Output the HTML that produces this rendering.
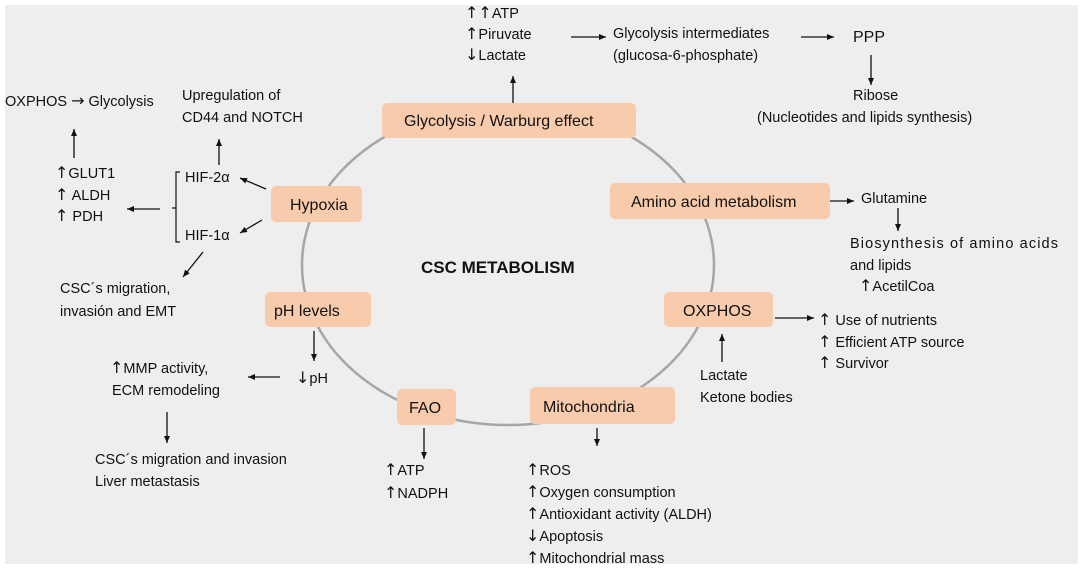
<!DOCTYPE html>
<html><head><meta charset="utf-8"><style>
html,body{margin:0;padding:0;background:#fff;}
svg{display:block;}
text{font-family:"Liberation Sans",sans-serif;font-size:14.5px;fill:#111;}
.b{font-size:16px;}
.r{font-family:"DejaVu Sans",sans-serif;font-size:16px;}
</style></head><body>
<svg width="1084" height="569" viewBox="0 0 1084 569" xmlns="http://www.w3.org/2000/svg">
<defs><marker id="a" markerWidth="8" markerHeight="8" refX="7" refY="4" orient="auto" markerUnits="userSpaceOnUse"><path d="M0,1 L7,4 L0,7 z" fill="#111"/></marker></defs>
<rect x="5" y="5" width="1073" height="559" fill="#eeeeee"/>
<ellipse cx="508" cy="265" rx="206" ry="160" fill="none" stroke="#a6a6a6" stroke-width="2.5"/>
<g fill="#f8cbad">
<rect x="382" y="103" width="254" height="35" rx="5"/>
<rect x="271" y="186" width="91" height="36" rx="5"/>
<rect x="610" y="183" width="220" height="36" rx="5"/>
<rect x="265" y="292" width="106" height="35" rx="5"/>
<rect x="664" y="292" width="109" height="35" rx="5"/>
<rect x="397" y="389" width="59" height="36" rx="5"/>
<rect x="530" y="387" width="145" height="37" rx="5"/>
</g>
<text class="b" x="404" y="126">Glycolysis / Warburg effect</text>
<text class="b" x="290" y="210">Hypoxia</text>
<text class="b" x="631" y="207">Amino acid metabolism</text>
<text class="b" x="274" y="316">pH levels</text>
<text class="b" x="683" y="316">OXPHOS</text>
<text class="b" x="409" y="413">FAO</text>
<text class="b" x="543" y="412">Mitochondria</text>
<text x="421" y="273" style="font-weight:bold;font-size:17px">CSC METABOLISM</text>
<g stroke="#111" stroke-width="1.3" fill="none" marker-end="url(#a)">
<line x1="513" y1="103" x2="513" y2="76"/>
<line x1="571" y1="37" x2="606" y2="37"/>
<line x1="801" y1="37" x2="834" y2="37"/>
<line x1="871" y1="55" x2="871" y2="85"/>
<line x1="74" y1="158" x2="74" y2="129"/>
<line x1="219" y1="165" x2="219" y2="139"/>
<line x1="160" y1="209" x2="127" y2="209"/>
<line x1="266" y1="189" x2="240" y2="178"/>
<line x1="262" y1="220" x2="240" y2="233"/>
<line x1="203" y1="252" x2="183" y2="277"/>
<line x1="830" y1="201" x2="854" y2="201"/>
<line x1="898" y1="208" x2="898" y2="231"/>
<line x1="775" y1="318" x2="814" y2="318"/>
<line x1="722" y1="362" x2="722" y2="334"/>
<line x1="314" y1="331" x2="314" y2="361"/>
<line x1="280" y1="377" x2="248" y2="377"/>
<line x1="167" y1="412" x2="167" y2="443"/>
<line x1="424" y1="428" x2="424" y2="459"/>
<line x1="597" y1="428" x2="597" y2="446"/>
</g>
<path d="M180,172 L176,172 L176,242 L180,242 M176,208 L172,208" stroke="#111" stroke-width="1.2" fill="none"/>
<text x="465" y="18"><tspan class="r">↑↑</tspan>ATP</text>
<text x="465" y="39"><tspan class="r">↑</tspan>Piruvate</text>
<text x="465" y="60"><tspan class="r">↓</tspan>Lactate</text>
<text x="613" y="38">Glycolysis intermediates</text>
<text x="613" y="60">(glucosa-6-phosphate)</text>
<text class="b" x="853" y="42">PPP</text>
<text x="853" y="100">Ribose</text>
<text x="757" y="122">(Nucleotides and lipids synthesis)</text>
<text x="5" y="106">OXPHOS <tspan class="r">→</tspan> Glycolysis</text>
<text x="182" y="100">Upregulation of</text>
<text x="182" y="122">CD44 and NOTCH</text>
<text x="185" y="182">HIF-2α</text>
<text x="185" y="240">HIF-1α</text>
<text x="55" y="178"><tspan class="r">↑</tspan>GLUT1</text>
<text x="55" y="200"><tspan class="r">↑</tspan> ALDH</text>
<text x="55" y="221"><tspan class="r">↑</tspan> PDH</text>
<text x="60" y="293">CSC´s migration,</text>
<text x="60" y="316">invasión and EMT</text>
<text x="861" y="203">Glutamine</text>
<text x="850" y="248" textLength="208" lengthAdjust="spacing">Biosynthesis of amino acids</text>
<text x="850" y="270">and lipids</text>
<text x="859" y="291"><tspan class="r">↑</tspan>AcetilCoa</text>
<text x="818" y="325"><tspan class="r">↑</tspan> Use of nutrients</text>
<text x="818" y="347"><tspan class="r">↑</tspan> Efficient ATP source</text>
<text x="818" y="368"><tspan class="r">↑</tspan> Survivor</text>
<text x="700" y="380">Lactate</text>
<text x="700" y="402">Ketone bodies</text>
<text x="296" y="383"><tspan class="r">↓</tspan>pH</text>
<text x="110" y="373"><tspan class="r">↑</tspan>MMP activity,</text>
<text x="112" y="395">ECM remodeling</text>
<text x="95" y="464">CSC´s migration and invasion</text>
<text x="95" y="486">Liver metastasis</text>
<text x="384" y="475"><tspan class="r">↑</tspan>ATP</text>
<text x="384" y="498"><tspan class="r">↑</tspan>NADPH</text>
<text x="526" y="475"><tspan class="r">↑</tspan>ROS</text>
<text x="526" y="497"><tspan class="r">↑</tspan>Oxygen consumption</text>
<text x="526" y="519"><tspan class="r">↑</tspan>Antioxidant activity (ALDH)</text>
<text x="526" y="541"><tspan class="r">↓</tspan>Apoptosis</text>
<text x="526" y="563"><tspan class="r">↑</tspan>Mitochondrial mass</text>
</svg>
</body></html>
